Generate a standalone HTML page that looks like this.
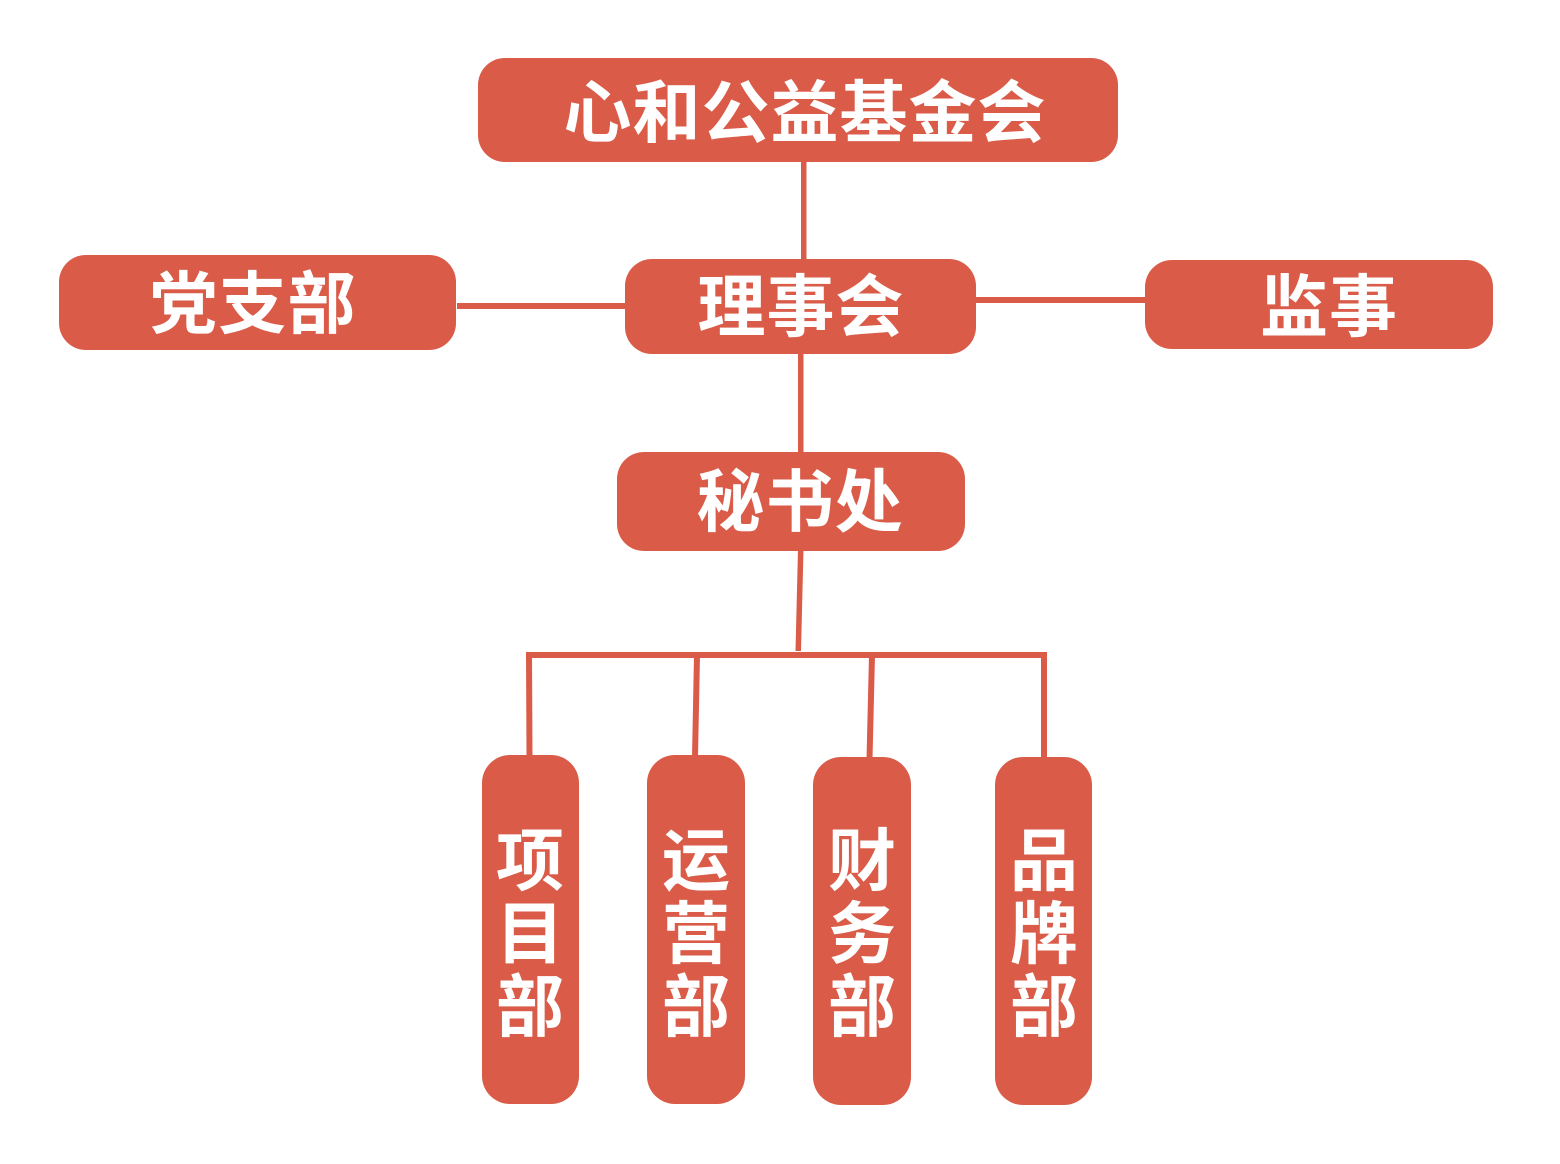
<!DOCTYPE html>
<html>
<head>
<meta charset="utf-8">
<style>
  html, body { margin: 0; padding: 0; background: #ffffff; }
  body { width: 1560px; height: 1164px; overflow: hidden; }
  svg { display: block; }
  text { font-family: "Liberation Sans", "Noto Sans CJK SC", "WenQuanYi Zen Hei", sans-serif; font-weight: bold; fill: #ffffff; font-size: 68px; }
</style>
</head>
<body>
<svg width="1560" height="1164" viewBox="0 0 1560 1164" xmlns="http://www.w3.org/2000/svg">
  <g fill="#DA5B48">
    <!-- connectors -->
    <rect x="801" y="160" width="5.5" height="101"/>
    <rect x="457" y="303" width="170" height="6"/>
    <rect x="974" y="297" width="173" height="6"/>
    <rect x="798" y="351" width="5.5" height="103"/>
    <polygon points="798,549 803.5,549 801,651 795.5,651"/>
    <rect x="526" y="652" width="521" height="6"/>
    <polygon points="526,652 532,652 532.5,757 526.5,757"/>
    <polygon points="694,655 700,655 698,757 692,757"/>
    <polygon points="869,655 875,655 872.5,759 866.5,759"/>
    <rect x="1041" y="652" width="6" height="107"/>

    <!-- boxes -->
    <rect x="478" y="58" width="640" height="104" rx="27" ry="27"/>
    <rect x="59" y="255" width="397" height="95" rx="27" ry="27"/>
    <rect x="625" y="259" width="351" height="95" rx="27" ry="27"/>
    <rect x="1145" y="260" width="348" height="89" rx="27" ry="27"/>
    <rect x="617" y="452" width="348" height="99" rx="27" ry="27"/>
    <rect x="482" y="755" width="97" height="349" rx="28" ry="28"/>
    <rect x="647" y="755" width="98" height="349" rx="28" ry="28"/>
    <rect x="813" y="757" width="98" height="348" rx="28" ry="28"/>
    <rect x="995" y="757" width="97" height="348" rx="28" ry="28"/>
  </g>

  <!-- horizontal labels -->
  <text x="805" y="137" text-anchor="middle" letter-spacing="1">心和公益基金会</text>
  <text x="253" y="328" text-anchor="middle" letter-spacing="1">党支部</text>
  <text x="801" y="331" text-anchor="middle" letter-spacing="1">理事会</text>
  <text x="1329" y="331" text-anchor="middle" letter-spacing="1">监事</text>
  <text x="800" y="526" text-anchor="middle" letter-spacing="1">秘书处</text>

  <!-- vertical labels -->
  <text x="530" y="885" text-anchor="middle">项</text>
  <text x="530" y="958" text-anchor="middle">目</text>
  <text x="530" y="1031" text-anchor="middle">部</text>

  <text x="696" y="885" text-anchor="middle">运</text>
  <text x="696" y="958" text-anchor="middle">营</text>
  <text x="696" y="1031" text-anchor="middle">部</text>

  <text x="862" y="885" text-anchor="middle">财</text>
  <text x="862" y="958" text-anchor="middle">务</text>
  <text x="862" y="1031" text-anchor="middle">部</text>

  <text x="1044" y="885" text-anchor="middle">品</text>
  <text x="1044" y="958" text-anchor="middle">牌</text>
  <text x="1044" y="1031" text-anchor="middle">部</text>
</svg>
</body>
</html>
